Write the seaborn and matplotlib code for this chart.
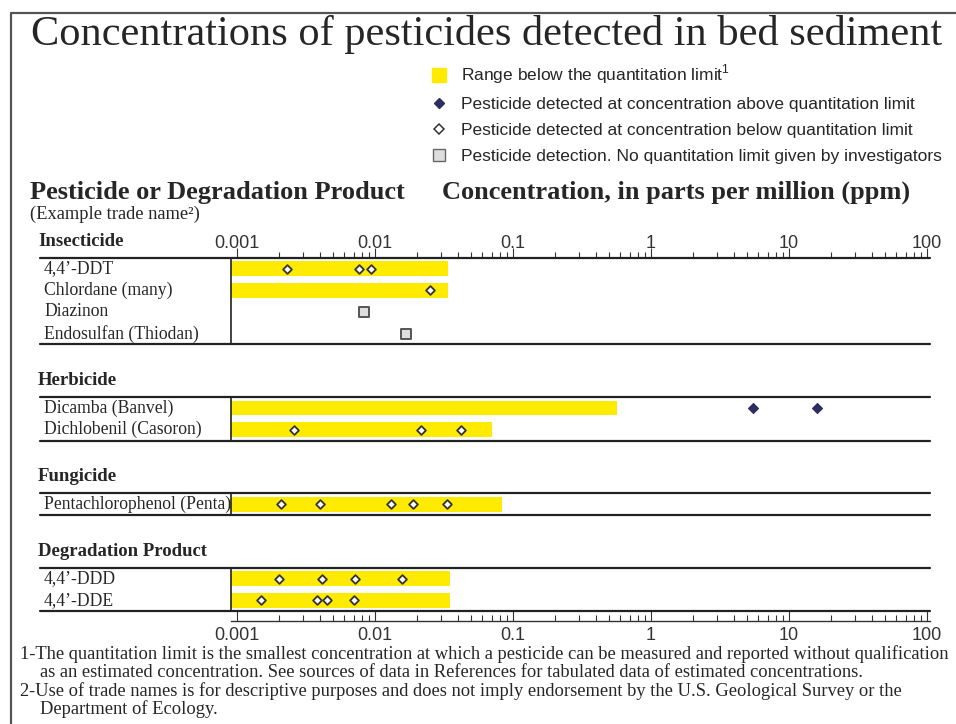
import numpy as np
import pandas as pd
import seaborn as sns
import matplotlib.pyplot as plt
import matplotlib.ticker as mticker
from matplotlib.lines import Line2D

# data (ppm)
pesticides = ["4,4’-DDT", "Chlordane (many)", "Diazinon", "Endosulfan (Thiodan)",
              "Dicamba (Banvel)", "Dichlobenil (Casoron)",
              "Pentachlorophenol (Penta)",
              "4,4’-DDD", "4,4’-DDE"]
groups = ["Insecticide"] * 4 + ["Herbicide"] * 2 + ["Fungicide"] + ["Degradation Product"] * 2
group_order = ["Insecticide", "Herbicide", "Fungicide", "Degradation Product"]

# upper end of the "below quantitation limit" range (None = no range)
range_upper = [0.034, 0.034, None, None, 0.57, 0.07, 0.083, 0.035, 0.035]

point_pesticide = (["4,4’-DDT"] * 3 + ["Chlordane (many)"] + ["Diazinon"] + ["Endosulfan (Thiodan)"]
                   + ["Dicamba (Banvel)"] * 2 + ["Dichlobenil (Casoron)"] * 3
                   + ["Pentachlorophenol (Penta)"] * 5
                   + ["4,4’-DDD"] * 4 + ["4,4’-DDE"] * 4)
point_value = ([0.0023, 0.0077, 0.0093, 0.025, 0.0083, 0.0168,
                5.5, 15.9, 0.0026, 0.0216, 0.042,
                0.0021, 0.004, 0.013, 0.019, 0.033,
                0.002, 0.0041, 0.0072, 0.0157,
                0.0015, 0.0038, 0.0045, 0.007])
point_kind = (["below"] * 4 + ["nolimit"] * 2 + ["above"] * 2 + ["below"] * 3
              + ["below"] * 5 + ["below"] * 8)

tick_values = [0.001, 0.01, 0.1, 1, 10, 100]

title = "Concentrations of pesticides detected in bed sediment"
legend_labels = ["Range below the quantitation limit$^{\\mathsf{1}}$",
                 "Pesticide detected at concentration above quantitation limit",
                 "Pesticide detected at concentration below quantitation limit",
                 "Pesticide detection. No quantitation limit given by investigators"]
footnotes = [
    "1-The quantitation limit is the smallest concentration at which a pesticide can be measured and reported without qualification",
    "as an estimated concentration. See sources of data in References for tabulated data of estimated concentrations.",
    "2-Use of trade names is for descriptive purposes and does not imply endorsement by the U.S. Geological Survey or the",
    "Department of Ecology.",
]
footnote_indent = [False, True, False, True]

YELLOW = "#ffeb00"
NAVY = "#2e2e5e"

sns.set_style("white")
plt.rcParams['font.family'] = ['Liberation Serif', 'DejaVu Serif']
plt.rcParams['mathtext.fontset'] = 'custom'
plt.rcParams['mathtext.sf'] = 'Liberation Sans'
plt.rcParams['mathtext.rm'] = 'Liberation Sans'

# row positions with gaps between groups
gap = 2.45
ypos, group_top, group_bottom = {}, {}, {}
cur = -0.5
for g in group_order:
    members = [p for p, gg in zip(pesticides, groups) if gg == g]
    group_top[g] = cur
    for i, p in enumerate(members):
        ypos[p] = cur + 0.5 + i
    group_bottom[g] = cur + len(members)
    cur = group_bottom[g] + gap

W, H = 956, 724
fig = plt.figure(figsize=(W / 100, H / 100), dpi=100)
ax = fig.add_axes([231 / W, 1 - 621 / H, (930 - 231) / W, (621 - 258) / H])
ax.set_xscale('log')
xmin, xmax = 10 ** (-3 - 6 / 138), 10 ** (2 + 3 / 138)

# yellow ranges
for p, up in zip(pesticides, range_upper):
    if up is not None:
        ax.barh(ypos[p], up - xmin, left=xmin, height=0.68, color=YELLOW, lw=0, zorder=2)

df = pd.DataFrame({"pesticide": point_pesticide, "ppm": point_value, "kind": point_kind})
df["y"] = df["pesticide"].map(ypos)
sns.scatterplot(data=df[df.kind == "below"], x="ppm", y="y", marker="D", s=20,
                color="white", edgecolor="#333333", linewidth=1.3, ax=ax, zorder=4)
sns.scatterplot(data=df[df.kind == "above"], x="ppm", y="y", marker="D", s=26,
                color=NAVY, edgecolor=NAVY, linewidth=0.8, ax=ax, zorder=4)
sns.scatterplot(data=df[df.kind == "nolimit"], x="ppm", y="y", marker="s", s=48,
                color="#dedede", edgecolor="#555555", linewidth=1.4, ax=ax, zorder=4)

ax.set_xlim(xmin, xmax)
ax.set_ylim(-0.5 + 363 / 21.6, -0.5)
ax.set_xlabel("")
ax.set_ylabel("")
ax.set_yticks([])
for s in ["top", "right", "left"]:
    ax.spines[s].set_visible(False)
ax.spines["bottom"].set_color("#333333")
ax.spines["bottom"].set_linewidth(1.0)

fmt = mticker.FuncFormatter(lambda v, _: f"{v:g}")

ax.xaxis.set_major_locator(mticker.FixedLocator(tick_values))
ax.xaxis.set_minor_locator(mticker.LogLocator(base=10, subs=np.arange(2, 10), numticks=20))
ax.xaxis.set_major_formatter(fmt)
ax.xaxis.set_minor_formatter(mticker.NullFormatter())
ax.tick_params(axis="x", which="both", bottom=True, top=False, direction="in",
               colors="#333333", width=0.8, labelsize=13, pad=4)
ax.tick_params(axis="x", which="major", length=7)
ax.tick_params(axis="x", which="minor", length=4)
for lab in ax.get_xticklabels():
    lab.set_fontfamily("Liberation Sans")

top = ax.secondary_xaxis("top")
top.xaxis.set_major_locator(mticker.FixedLocator(tick_values))
top.xaxis.set_minor_locator(mticker.LogLocator(base=10, subs=np.arange(2, 10), numticks=20))
top.xaxis.set_major_formatter(fmt)
top.xaxis.set_minor_formatter(mticker.NullFormatter())
top.tick_params(axis="x", which="both", direction="out", colors="#333333", width=0.8,
                labelsize=13, pad=-3)
top.tick_params(axis="x", which="major", length=7)
top.tick_params(axis="x", which="minor", length=4)
top.spines["top"].set_visible(False)
for lab in top.get_xticklabels():
    lab.set_fontfamily("Liberation Sans")

# group frames, headers and row labels
trans = ax.get_yaxis_transform()
xl = (40 - 231) / (930 - 231)
for g in group_order:
    for yy in (group_top[g], group_bottom[g]):
        ax.plot([xl, 1.0], [yy, yy], transform=trans, clip_on=False, color="#222222", lw=1.6)
    ax.plot([0, 0], [group_top[g], group_bottom[g]], transform=trans, clip_on=False,
            color="#222222", lw=1.2)
    ax.text((38 - 231) / 699, group_top[g] - 0.78, g, transform=trans, fontsize=13.5,
            fontweight="bold", va="center", ha="left")
for p in pesticides:
    ax.text((44 - 231) / 699, ypos[p], p, transform=trans, fontsize=12.7, va="center", ha="left")

# texts
fig.text(487 / W, 1 - 35 / H, title, ha="center", va="center", fontsize=30.5)
fig.text(30 / W, 1 - 192 / H, "Pesticide or Degradation Product", fontsize=19,
         fontweight="bold", va="center")
fig.text(442 / W, 1 - 192 / H, "Concentration, in parts per million (ppm)", fontsize=19,
         fontweight="bold", va="center")
fig.text(30 / W, 1 - 214 / H, "(Example trade name²)", fontsize=13.3, va="center")
for i, (line, ind) in enumerate(zip(footnotes, footnote_indent)):
    fig.text((40 if ind else 20) / W, 1 - (654 + 18.5 * i) / H, line, fontsize=13.3, va="center")

handles = [Line2D([], [], marker="s", ls="none", markerfacecolor=YELLOW,
                  markeredgecolor=YELLOW, markersize=9.5),
           Line2D([], [], marker="D", ls="none", color=NAVY, markersize=5.5),
           Line2D([], [], marker="D", ls="none", markerfacecolor="white",
                  markeredgecolor="#333333", markersize=5, markeredgewidth=1.1),
           Line2D([], [], marker="s", ls="none", markerfacecolor="#dedede",
                  markeredgecolor="#666666", markersize=8)]
fig.legend(handles, legend_labels, loc="upper left", bbox_to_anchor=(416 / W, 1 - 47 / H),
           frameon=False, handlelength=0.9, handletextpad=0.8, labelspacing=0.62,
           prop={"family": "Liberation Sans", "size": 12.5})

# outer frame
fig.add_artist(Line2D([11 / W, 11 / W], [0, 1 - 13 / H], transform=fig.transFigure,
                      color="#555555", lw=1.6))
fig.add_artist(Line2D([11 / W, 1], [1 - 13 / H, 1 - 13 / H], transform=fig.transFigure,
                      color="#555555", lw=1.6))

fig.savefig("out.png", dpi=100)
